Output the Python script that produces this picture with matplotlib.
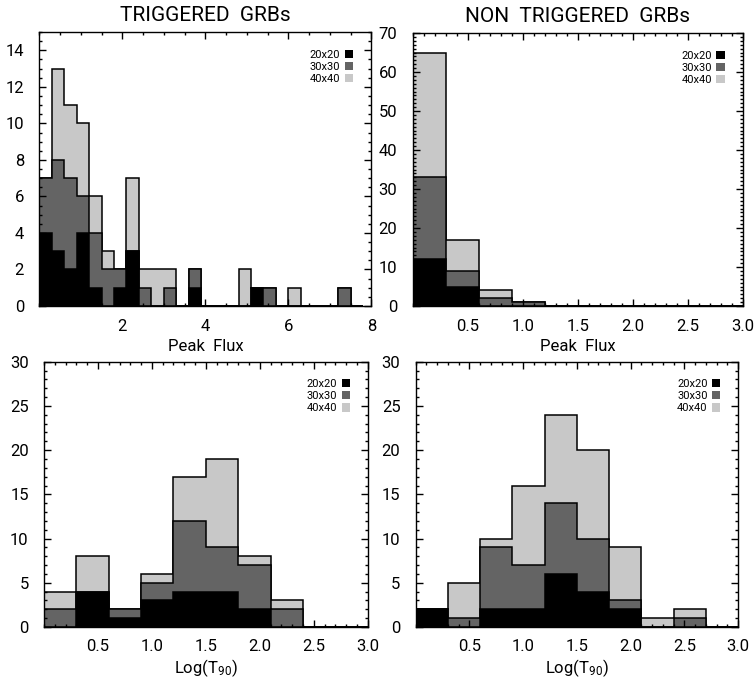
import numpy as np
import matplotlib
matplotlib.use('Agg')
import matplotlib.pyplot as plt
from matplotlib.patches import Patch
from matplotlib.ticker import MultipleLocator, FormatStrFormatter

plt.rcParams['font.family'] = ['Roboto', 'DejaVu Sans']
plt.rcParams['mathtext.fontset'] = 'custom'
plt.rcParams['mathtext.rm'] = 'Roboto'
plt.rcParams['mathtext.default'] = 'rm'

# counts per bin (bin width 0.3 starting at 0)
trig_flux_40 = [7, 13, 11, 10, 6, 3, 2, 7, 2, 2, 2, 0, 2, 0, 0, 0, 2, 1, 1, 0, 1, 0, 0, 0, 1, 0]
trig_flux_30 = [7, 8, 7, 6, 4, 2, 2, 3, 1, 0, 1, 0, 2, 0, 0, 0, 0, 1, 1, 0, 0, 0, 0, 0, 1, 0]
trig_flux_20 = [4, 3, 2, 4, 1, 0, 1, 3, 0, 0, 0, 0, 1, 0, 0, 0, 0, 1, 0, 0, 0, 0, 0, 0, 0, 0]

non_flux_40 = [65, 17, 4, 1, 0, 0, 0, 0, 0, 0]
non_flux_30 = [33, 9, 2, 1, 0, 0, 0, 0, 0, 0]
non_flux_20 = [12, 5, 0, 0, 0, 0, 0, 0, 0, 0]

trig_t90_40 = [4, 8, 2, 6, 17, 19, 8, 3, 0, 0]
trig_t90_30 = [2, 4, 2, 5, 12, 9, 7, 2, 0, 0]
trig_t90_20 = [0, 4, 1, 3, 4, 4, 2, 0, 0, 0]

non_t90_40 = [2, 5, 10, 16, 24, 20, 9, 1, 2, 0]
non_t90_30 = [2, 1, 9, 7, 14, 10, 3, 0, 1, 0]
non_t90_20 = [2, 0, 2, 2, 6, 4, 2, 0, 0, 0]

labels = ['20x20', '30x30', '40x40']
colors = ['black', '#646464', '#c8c8c8']
binw = 0.3


def histo(ax, c20, c30, c40):
    edges = np.arange(len(c40) + 1) * binw
    for c, col in zip([c40, c30, c20], [colors[2], colors[1], colors[0]]):
        ax.stairs(c, edges, fill=True, facecolor=col, edgecolor='none')
        ax.stairs(c, edges, baseline=0, color='black', lw=1.1)
    handles = [Patch(facecolor=col, edgecolor='none') for col in colors]
    ax.legend(handles, labels, loc='upper right', bbox_to_anchor=(0.945, 0.935),
              frameon=False, markerfirst=False, fontsize=8, handlelength=0.75,
              handleheight=0.75, handletextpad=0.4, labelspacing=0.2,
              borderpad=0, borderaxespad=0)


def style(ax, xmaj, xmin, ymaj, ymin, fmt):
    ax.xaxis.set_major_locator(MultipleLocator(xmaj))
    ax.xaxis.set_minor_locator(MultipleLocator(xmin))
    ax.yaxis.set_major_locator(MultipleLocator(ymaj))
    ax.yaxis.set_minor_locator(MultipleLocator(ymin))
    ax.xaxis.set_major_formatter(FormatStrFormatter(fmt))
    ax.tick_params(which='both', direction='in', top=True, right=True, labelsize=12)
    ax.tick_params(which='major', length=5, width=1)
    ax.tick_params(which='minor', length=2.5, width=1)
    ax.tick_params(axis='x', pad=9)
    ax.tick_params(axis='y', pad=11)
    for s in ax.spines.values():
        s.set_linewidth(1.0)
    # no label at the origin
    xt = [t for t in ax.get_xticks() if t > 0.01 and t <= ax.get_xlim()[1] + 1e-6]
    ax.set_xticks(xt)


fig = plt.figure(figsize=(7.55, 6.79), dpi=100)
ax1 = fig.add_axes([0.0521, 0.5493, 0.4397, 0.4035])
ax2 = fig.add_axes([0.5466, 0.5493, 0.4371, 0.4020])
ax3 = fig.add_axes([0.0583, 0.0766, 0.4287, 0.3907])
ax4 = fig.add_axes([0.5506, 0.0766, 0.4269, 0.3907])

histo(ax1, trig_flux_20, trig_flux_30, trig_flux_40)
ax1.set_xlim(0, 8)
ax1.set_ylim(0, 15)
style(ax1, 2, 0.5, 2, 0.5, '%d')
ax1.set_yticks(range(0, 15, 2))
ax1.set_title('TRIGGERED  GRBs', fontsize=15, pad=8)
ax1.set_xlabel('Peak  Flux', fontsize=12, labelpad=4)

histo(ax2, non_flux_20, non_flux_30, non_flux_40)
ax2.set_xlim(0, 3)
ax2.set_ylim(0, 70)
style(ax2, 0.5, 0.1, 10, 1, '%.1f')
ax2.set_title('NON  TRIGGERED  GRBs', fontsize=15, pad=8)
ax2.set_xlabel('Peak  Flux', fontsize=12, labelpad=4)

histo(ax3, trig_t90_20, trig_t90_30, trig_t90_40)
ax3.set_xlim(0, 3)
ax3.set_ylim(0, 30)
style(ax3, 0.5, 0.1, 5, 1, '%.1f')
ax3.set_xlabel(r'Log(T$_{90}$)', fontsize=12, labelpad=2)

histo(ax4, non_t90_20, non_t90_30, non_t90_40)
ax4.set_xlim(0, 3)
ax4.set_ylim(0, 30)
style(ax4, 0.5, 0.1, 5, 1, '%.1f')
ax4.set_xlabel(r'Log(T$_{90}$)', fontsize=12, labelpad=2)

fig.savefig('out.png', dpi=100)
